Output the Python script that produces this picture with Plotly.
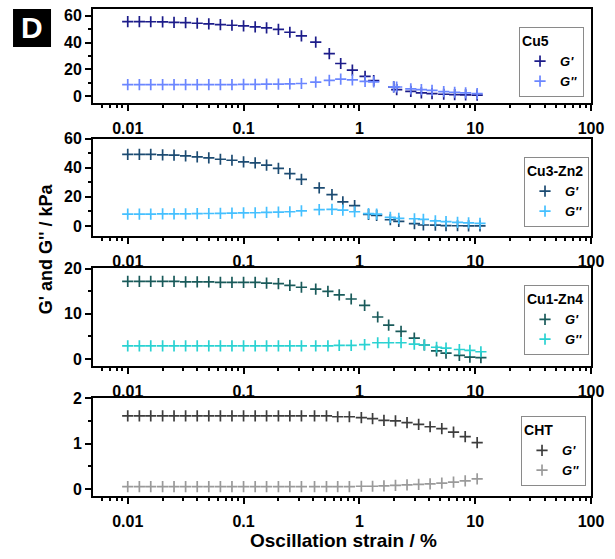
import plotly.graph_objects as go

# ---------------- data ----------------
strain_low = [0.01, 0.0126, 0.0158, 0.02, 0.0251, 0.0316, 0.0398, 0.0501, 0.0631, 0.0794,
              0.1, 0.126, 0.158, 0.2, 0.251, 0.316]
cu5_tail = [0.42, 0.55, 0.69, 0.87, 1.12, 1.33, 1.98, 2.1, 2.78, 3.43, 4.24, 5.35, 6.65, 8.27, 10.4]
cu3_tail = [0.45, 0.58, 0.72, 0.91, 1.2, 1.41, 1.85, 2.19, 2.99, 3.57, 4.53, 5.6, 7.04, 8.77, 11.0]
cu1_tail = [0.42, 0.535, 0.67, 0.85, 1.11, 1.44, 1.79, 2.29, 2.98, 3.64, 4.64, 5.6, 7.3, 9.0, 11.2]
cht_tail = [0.41, 0.52, 0.65, 0.82, 1.04, 1.3, 1.63, 2.05, 2.58, 3.25, 4.08, 5.15, 6.5, 8.2, 10.4]

cu5_Gp = [55.6, 55.6, 55.5, 55.4, 55.1, 54.8, 54.4, 53.9, 53.4, 52.9, 52.4, 51.7, 51.0, 49.8, 47.7, 45.0,
          40.4, 31.8, 24.4, 19.5, 14.8, 11.7, 7.0, 5.0, 3.7, 2.5, 2.0, 1.5, 1.3, 1.0, 0.8]
cu5_Gpp = [8.7, 8.7, 8.7, 8.7, 8.7, 8.7, 8.7, 8.7, 8.7, 8.7, 8.8, 8.9, 9.0, 9.1, 9.3, 9.5,
           10.5, 11.9, 12.7, 12.2, 11.1, 10.8, 7.0, 6.9, 5.5, 5.0, 4.4, 3.5, 3.0, 2.5, 2.0]

cu3_Gp = [49.2, 49.2, 49.2, 48.8, 48.6, 48.1, 47.4, 46.7, 45.8, 45.1, 44.0, 43.3, 41.7, 39.5, 36.0, 32.0,
          26.2, 21.5, 16.6, 14.0, 7.9, 7.3, 4.3, 3.2, 1.6, 0.7, 0.6, 0.3, 0.2, 0.1, 0.1]
cu3_Gpp = [8.2, 8.2, 8.2, 8.3, 8.3, 8.4, 8.5, 8.6, 8.7, 8.8, 9.0, 9.1, 9.3, 9.6, 9.8, 10.4,
           11.2, 11.4, 10.9, 9.8, 8.5, 8.2, 5.9, 5.2, 5.0, 4.6, 3.6, 3.0, 2.5, 2.1, 1.8]

cu1_Gp = [17.2, 17.2, 17.2, 17.2, 17.2, 17.1, 17.1, 17.1, 17.0, 17.0, 17.0, 17.0, 16.8, 16.7, 16.3, 15.9,
          15.5, 15.0, 14.2, 13.3, 11.9, 9.3, 7.5, 6.1, 4.6, 3.1, 1.8, 1.3, 0.8, 0.4, 0.3]
cu1_Gpp = [2.9, 2.9, 2.9, 2.9, 2.9, 2.9, 2.9, 2.9, 2.9, 2.9, 2.9, 2.9, 2.9, 2.9, 2.9, 2.9,
           2.9, 2.9, 3.0, 3.0, 3.2, 3.6, 3.6, 3.6, 3.3, 3.1, 2.6, 2.4, 2.1, 1.9, 1.6]

cht_Gp = [1.61, 1.61, 1.61, 1.61, 1.61, 1.61, 1.61, 1.61, 1.61, 1.61, 1.61, 1.61, 1.61, 1.61, 1.61, 1.61,
          1.61, 1.61, 1.59, 1.59, 1.57, 1.55, 1.51, 1.50, 1.46, 1.42, 1.37, 1.33, 1.25, 1.15, 1.02]
cht_Gpp = [0.05, 0.05, 0.05, 0.05, 0.05, 0.05, 0.05, 0.05, 0.05, 0.05, 0.05, 0.05, 0.05, 0.05, 0.05, 0.05,
           0.05, 0.05, 0.05, 0.05, 0.06, 0.06, 0.07, 0.08, 0.09, 0.10, 0.11, 0.13, 0.15, 0.18, 0.22]

samples = ["Cu5", "Cu3-Zn2", "Cu1-Zn4", "CHT"]
tails = [cu5_tail, cu3_tail, cu1_tail, cht_tail]
Gp = [cu5_Gp, cu3_Gp, cu1_Gp, cht_Gp]
Gpp = [cu5_Gpp, cu3_Gpp, cu1_Gpp, cht_Gpp]
colors_Gp = ["#1c1c8a", "#1c4b72", "#195a5a", "#3d3d3d"]
colors_Gpp = ["#6b86ff", "#45c0ff", "#2ad2d2", "#9a9a9a"]

y_ranges = [[-5, 65], [-6.8, 60], [-1.55, 20.15], [-0.155, 2.0]]
y_dticks = [20, 20, 10, 1]
domains = [[0.807, 1.0], [0.534, 0.734], [0.267, 0.468], [0.0, 0.201]]
legend_pos = [(0.986, 0.963), (0.996, 0.696), (0.996, 0.433), (0.990, 0.164)]

FONT = "Liberation Sans, Arial, sans-serif"

fig = go.Figure()
layout = dict(
    width=615, height=559,
    margin=dict(l=93, r=24, t=9, b=63, autoexpand=False),
    paper_bgcolor="white", plot_bgcolor="white",
    font=dict(family=FONT, color="black"),
    showlegend=True,
)

minor_x = []
for dec in [0.001, 0.01, 0.1, 1, 10]:
    for m in range(2, 10):
        v = m * dec
        if 0.005 <= v <= 100:
            minor_x.append(v)

for i in range(4):
    k = "" if i == 0 else str(i + 1)
    strain = strain_low + tails[i]
    leg = "legend" + k
    fig.add_trace(go.Scatter(
        x=strain, y=Gp[i], mode="markers", name="<b><i>G'</i></b>",
        marker=dict(symbol="cross-thin", size=8, line=dict(width=1.7, color=colors_Gp[i])),
        xaxis="x" + k, yaxis="y" + k, legend=leg))
    fig.add_trace(go.Scatter(
        x=strain, y=Gpp[i], mode="markers", name="<b><i>G''</i></b>",
        marker=dict(symbol="cross-thin", size=8, line=dict(width=1.7, color=colors_Gpp[i])),
        xaxis="x" + k, yaxis="y" + k, legend=leg))

    layout["xaxis" + k] = dict(
        type="log", range=[-2.3, 2.0], domain=[0, 1], anchor="y" + k, automargin=False,
        tickmode="array", tickvals=[0.01, 0.1, 1, 10, 100],
        ticktext=["0.01", "0.1", "1", "10", "100"],
        ticks="outside", ticklen=6, tickwidth=2, tickcolor="black",
        showline=True, linewidth=2, linecolor="black", mirror=True,
        showgrid=False, zeroline=False,
        tickfont=dict(family=FONT, size=16, weight="bold"),
        ticklabelstandoff=4,
        minor=dict(tickmode="array", tickvals=minor_x, ticks="outside", ticklen=3,
                   tickwidth=1.5, tickcolor="black", showgrid=False),
    )
    layout["yaxis" + k] = dict(
        range=y_ranges[i], domain=domains[i], anchor="x" + k, automargin=False,
        tickmode="linear", tick0=0, dtick=y_dticks[i],
        ticks="outside", ticklen=6, tickwidth=2, tickcolor="black",
        showline=True, linewidth=2, linecolor="black", mirror=True,
        showgrid=False, zeroline=False,
        tickfont=dict(family=FONT, size=16, weight="bold"),
        minor=dict(tickmode="linear", tick0=0, dtick=y_dticks[i] / 2, ticks="outside",
                   ticklen=3, tickwidth=1.5, tickcolor="black", showgrid=False),
    )
    lx, ly = legend_pos[i]
    layout[leg] = dict(
        x=lx, y=ly, xanchor="right", yanchor="top",
        bgcolor="white", bordercolor="#8a8a8a", borderwidth=1,
        title=dict(text="<b>" + samples[i] + "</b>", font=dict(family=FONT, size=14)),
        font=dict(family=FONT, size=13), tracegroupgap=0, itemwidth=30,
    )

fig.update_layout(**layout)

fig.add_annotation(
    text="<b>Oscillation strain / %</b>", xref="paper", yref="paper",
    x=0.504, y=-0.092, xanchor="center", yanchor="middle", showarrow=False,
    font=dict(family=FONT, size=19))
fig.add_annotation(
    text="<b>G' and G'' / kPa</b>", xref="paper", yref="paper",
    x=-0.094, y=0.507, xanchor="center", yanchor="middle", showarrow=False,
    textangle=-90, font=dict(family=FONT, size=18))

# panel letter
fig.add_shape(type="rect", xref="paper", yref="paper",
              x0=-0.1606, x1=-0.0843, y0=0.922, y1=1.0,
              fillcolor="black", line=dict(width=0))
fig.add_annotation(
    text="<b>D</b>", xref="paper", yref="paper",
    x=-0.1225, y=0.961, xanchor="center", yanchor="middle", showarrow=False,
    font=dict(family=FONT, size=30, color="white"))

fig.write_html("out.html")
